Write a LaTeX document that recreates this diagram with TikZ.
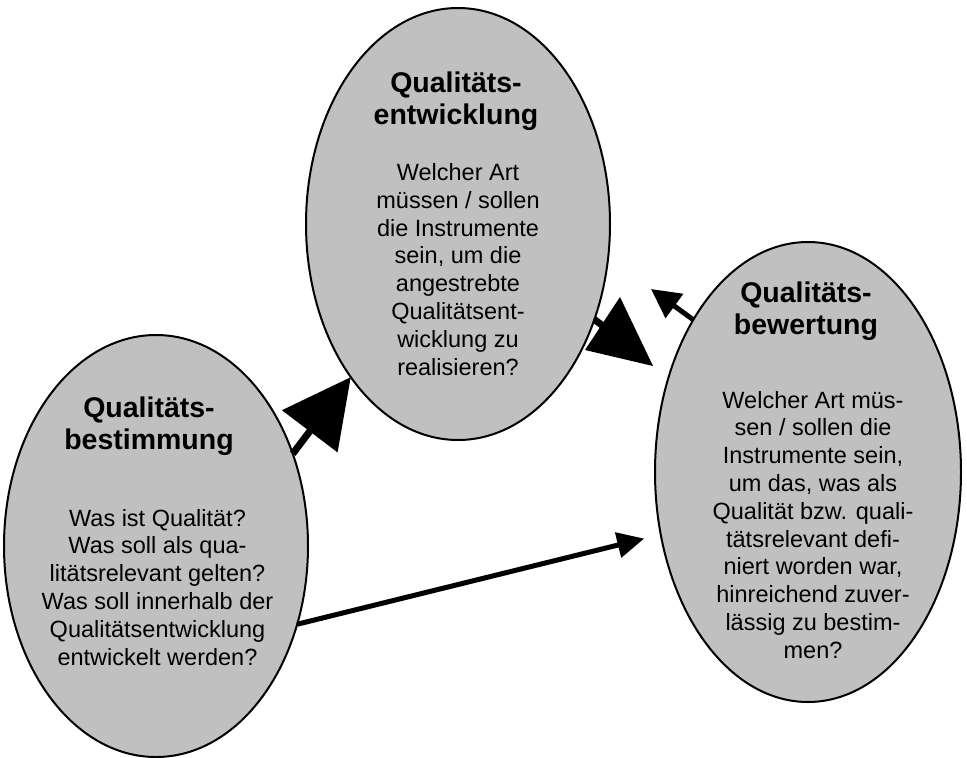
\documentclass[tikz,border=0pt]{standalone}
\usepackage{fontspec}
\setmainfont{Liberation Sans}
\usetikzlibrary{arrows.meta,shapes.geometric}
\definecolor{bubblegray}{HTML}{C0C0C0}
\newcommand{\mystack}[1]{\begin{tabular}[t]{@{}c@{}}#1\end{tabular}}
\begin{document}
\begin{tikzpicture}[x=1pt,y=-1pt,
  bubble/.style={ellipse,draw=black,line width=2pt,fill=bubblegray,inner sep=0pt,outer sep=0pt},
  titletext/.style={anchor=base,inner sep=0pt,font=\fontsize{28.5}{32}\selectfont\bfseries},
  bodytext/.style={anchor=base,inner sep=0pt,font=\fontsize{23.5}{27.8}\selectfont},
  bigarrow/.style={draw=black,line width=7pt,-{Triangle[length=68pt,width=68pt]}},
  thinarrow/.style={draw=black,line width=5pt}]
\useasboundingbox (0,0) rectangle (967,758);
\fill[white] (0,0) rectangle (967,758);

% ellipses
\node[bubble,minimum width=304pt,minimum height=432pt] (T) at (458,224) {};
\node[bubble,minimum width=304pt,minimum height=422pt] (L) at (156,546) {};
\node[bubble,minimum width=306pt,minimum height=460pt] (R) at (808,472) {};

% texts
\node[titletext] (Ttitle) at (456,92) {\mystack{Qualitäts-\\entwicklung}};
\node[bodytext] (Tbody) at (458,180.5) {\mystack{Welcher Art\\müssen / sollen\\die Instrumente\\sein, um die\\angestrebte\\Qualitätsent-\\wicklung zu\\realisieren?}};

\node[titletext] (Ltitle) at (149,417) {\mystack{Qualitäts-\\bestimmung}};
\node[bodytext] (Lbody) at (157.5,526) {\mystack{Was ist Qualität?\\Was soll als qua-\\litätsrelevant gelten?\\Was soll innerhalb der\\Qualitätsentwicklung\\entwickelt werden?}};

\node[titletext] (Rtitle) at (806,302) {\mystack{Qualitäts-\\bewertung}};
\node[bodytext] (Rbody) at (813,408) {\mystack{Welcher Art müs-\\sen / sollen die\\Instrumente sein,\\um das, was als\\Qualität bzw. quali-\\tätsrelevant defi-\\niert worden war,\\hinreichend zuver-\\lässig zu bestim-\\men?}};

% connectors
\draw[bigarrow] (L.34.5) -- (T.235.8);

\coordinate (smalltip) at (651,289);
\draw[thinarrow,-{Triangle[length=29pt,width=29pt]}] (R.127.8) -- (smalltip);

\draw[thinarrow,-{Triangle[length=27pt,width=25pt]},shorten >=17pt] (L.-29.7) -- (R.203.8);

\coordinate (bigtri) at (619,338);
\draw[line width=7pt] (T.-35.2) -- (bigtri);
\fill[black] (620,297) -- (585,350) -- (653,366) -- cycle;
\end{tikzpicture}
\end{document}
